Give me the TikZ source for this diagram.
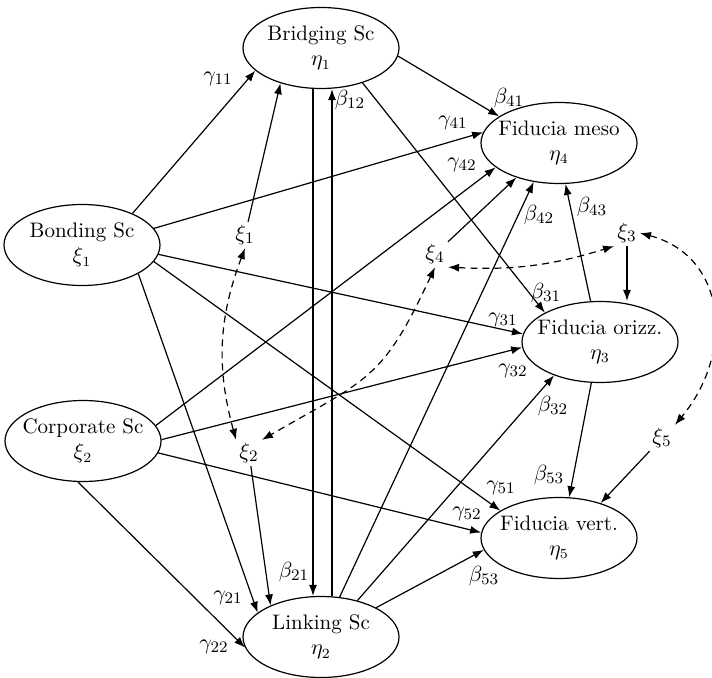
\documentclass[tikz,border=0pt]{standalone}
\usetikzlibrary{shapes.geometric,arrows.meta}
\begin{document}
\begin{tikzpicture}[x=0.5pt,y=-0.5pt,
  lat/.style={ellipse,draw,line width=0.6pt,minimum width=78pt,minimum height=40.5pt,
    inner xsep=-8pt,inner ysep=-2pt,align=center,font=\fontsize{10.5}{12.5}\selectfont,
    execute at begin node={\rule{0pt}{12pt}}},
  var/.style={inner sep=1.5pt,font=\fontsize{11}{13}\selectfont},
  lbl/.style={inner sep=0pt,font=\fontsize{11}{13}\selectfont},
  arr/.style={line width=0.6pt,-{Latex[length=5.5pt,width=4pt]}},
  darr/.style={line width=0.6pt,dash pattern=on 3.5pt off 2.5pt,
    {Latex[length=5.5pt,width=4pt]}-{Latex[length=5.5pt,width=4pt]}}]
\useasboundingbox (0,0) rectangle (712,678);

% latent variables
\node[lat] (bri) at (321,48) {Bridging Sc\\$\eta_1$};
\node[lat] (meso) at (559,143) {Fiducia meso\\$\eta_4$};
\node[lat] (bon) at (82,245) {Bonding Sc\\$\xi_1$};
\node[lat] (cor) at (83,441) {Corporate Sc\\$\xi_2$};
\node[lat] (lin) at (321,637) {Linking Sc\\$\eta_2$};
\node[lat] (ori) at (600,342) {Fiducia orizz.\\$\eta_3$};
\node[lat] (ver) at (559,538) {Fiducia vert.\\$\eta_5$};

% disturbances
\node[var] (xi1) at (245,235) {$\xi_1$};
\node[var] (xi2) at (249,453) {$\xi_2$};
\node[var] (xi3) at (627,233) {$\xi_3$};
\node[var] (xi4) at (435,254) {$\xi_4$};
\node[var] (xi5) at (662,438) {$\xi_5$};

% paths
\draw[arr] (bon.32) -- (bri.199);
\draw[arr] (xi1) -- (bri.221);
\draw[arr] ([xshift=-4pt]bri.south) -- ([xshift=-4pt]lin.north);
\draw[arr] ([xshift=5.5pt]lin.north) -- ([xshift=5.5pt]bri.south);
\draw[arr] (bri.354) -- (meso.156);
\draw[arr] (bri.320) -- (ori.152);
\draw[arr] (bon.13) -- (meso.172);
\draw[arr] (cor.12) -- (meso.201);
\draw[arr] (xi4) -- (meso.219);
\draw[arr] (lin.65) -- (meso.237);
\draw[arr] (ori.103) -- (meso.279);
\draw[arr] (xi3.south) -- (xi3.south |- ori.north);
\draw[arr] (bon.353) -- (ori.174);
\draw[arr] (cor.1) -- (ori.184);
\draw[arr] (lin.45) -- (ori.216);
\draw[arr] (bon.347) -- (ver.155);
\draw[arr] (cor.351) -- (ver.176);
\draw[arr] (lin.28) -- (ver.189);
\draw[arr] (ori.258) -- (ver.76);
\draw[arr] (xi5) -- (ver.40);
\draw[arr] (bon.333) -- (lin.159);
\draw[arr] (xi2) -- (lin.148);
\draw[arr] (cor.263) -- (lin.188);

% correlations
\draw[darr] (xi1.south) to[bend right=18] (xi2.north west);
\draw[darr] (xi4.south east) to[bend right=10] (xi3.south west);
\draw[darr] (xi3.east) to[out=-15,in=50,looseness=1.2] (xi5.north east);
\draw[darr] (xi4.south) to[out=-115,in=30,looseness=1.3] (xi2.north east);

% coefficient labels
\node[lbl] (g11) at (218,79) {$\gamma_{11}$};
\node[lbl] (b12) at (350,100) {$\beta_{12}$};
\node[lbl] (b41) at (509,98) {$\beta_{41}$};
\node[lbl] (g41) at (453,123) {$\gamma_{41}$};
\node[lbl] (g42) at (462,165) {$\gamma_{42}$};
\node[lbl] (b42) at (539,215) {$\beta_{42}$};
\node[lbl] (b43) at (592,207) {$\beta_{43}$};
\node[lbl] (b31) at (546,293) {$\beta_{31}$};
\node[lbl] (g31) at (503,320) {$\gamma_{31}$};
\node[lbl] (g32) at (513,371) {$\gamma_{32}$};
\node[lbl] (b32) at (553,406) {$\beta_{32}$};
\node[lbl] (b53a) at (549,475) {$\beta_{53}$};
\node[lbl] (g51) at (501,488) {$\gamma_{51}$};
\node[lbl] (g52) at (467,514) {$\gamma_{52}$};
\node[lbl] (b53b) at (484,576) {$\beta_{53}$};
\node[lbl] (b21) at (294,572) {$\beta_{21}$};
\node[lbl] (g21) at (228,598) {$\gamma_{21}$};
\node[lbl] (g22) at (214,647) {$\gamma_{22}$};
\end{tikzpicture}
\end{document}
